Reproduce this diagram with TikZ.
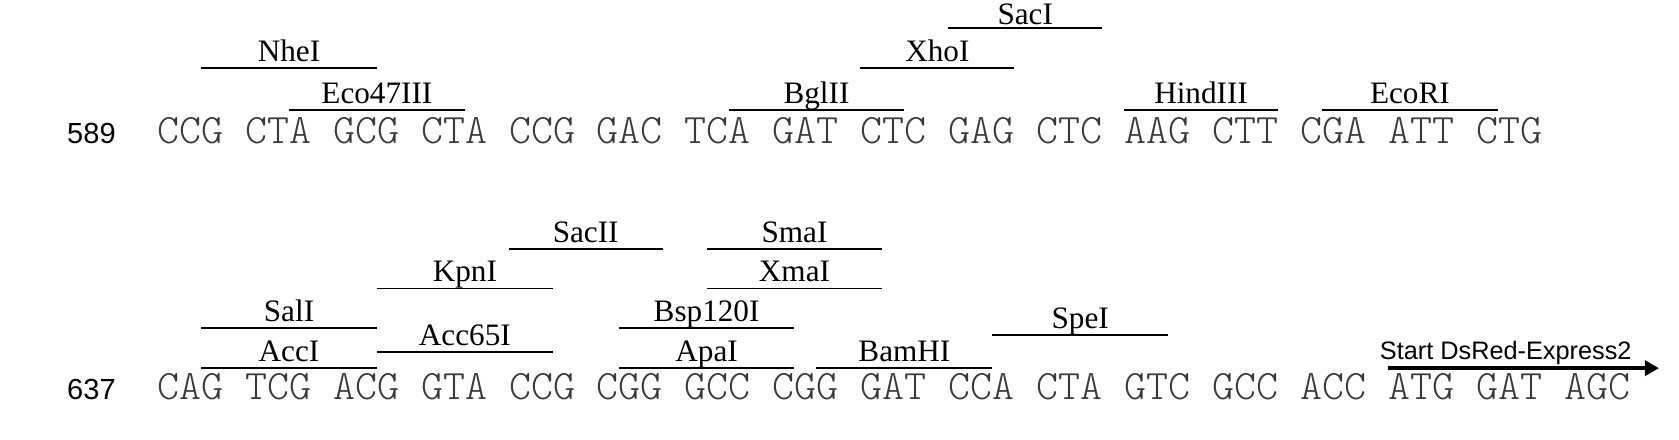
\documentclass[tikz,border=0pt]{standalone}
\usepackage{fontspec}
\setmainfont{Liberation Serif}
\newfontfamily\sansf{Liberation Sans}
\newfontfamily\monof{Latin Modern Mono Light}
\usetikzlibrary{arrows.meta}
\definecolor{seq}{HTML}{3A3A3A}
\newcommand\rsite[6][6pt]{% [gap] name, label, from, to, y
  \draw[bar] ({146+20.42*#4},#6) -- ({146+20.42*#5},#6)
    node[enz, midway, anchor=base, yshift=#1] (#2) {#3};}
\begin{document}
\begin{tikzpicture}[x=1pt,y=-1pt,scale=1.0763,every node/.style={transform shape},
  bar/.style={line width=1.8pt,black},
  enz/.style={inner sep=0pt,font=\fontsize{29}{29}\selectfont},
  seqs/.style={inner sep=0pt,anchor=base west,text=seq,font=\monof\fontsize{38.9}{38.9}\selectfont},
  num/.style={inner sep=0pt,anchor=base,font=\sansf\fontsize{27}{27}\selectfont}]
\useasboundingbox (0,0) rectangle (1560,408.8);
\node[num] (n1) at (85,133) {589};
\node[num] (n2) at (85,371) {637};
\node[seqs] (s1) at (146,133) {CCG CTA GCG CTA CCG GAC TCA GAT CTC GAG CTC AAG CTT CGA ATT CTG};
\node[seqs] (s2) at (146,371) {CAG TCG ACG GTA CCG CGG GCC CGG GAT CCA CTA GTC GCC ACC ATG GAT AGC};
% row 1
\rsite{nhe}{NheI}{2}{10}{63}
\rsite{eco47}{Eco47III}{6}{14}{102}
\rsite{bgl}{BglII}{26}{34}{102}
\rsite{xho}{XhoI}{32}{39}{63}
\rsite[3pt]{sac}{SacI}{36}{43}{26}
\rsite{hind}{HindIII}{44}{51}{102}
\rsite{ecori}{EcoRI}{53}{61}{102}
% row 2
\rsite{acc}{AccI}{2}{10}{342}
\rsite{sal}{SalI}{2}{10}{305}
\rsite{acc65}{Acc65I}{10}{18}{327}
\rsite{kpn}{KpnI}{10}{18}{268}
\rsite{sacii}{SacII}{16}{23}{231}
\rsite{sma}{SmaI}{25}{33}{231}
\rsite{xma}{XmaI}{25}{33}{268}
\rsite{bsp}{Bsp120I}{21}{29}{305}
\rsite{apa}{ApaI}{21}{29}{342}
\rsite{bam}{BamHI}{30}{38}{342}
\rsite{spe}{SpeI}{38}{46}{311}
\coordinate (as) at ({146+20.42*56},342);
\coordinate (ae) at (1541,342);
\draw[line width=3.5pt,-{Triangle[length=14pt,width=15pt]}] (as) -- (ae);
\node[inner sep=0pt,anchor=base,font=\sansf\fontsize{23.5}{23.5}\selectfont] (start) at (1399,334) {Start DsRed-Express2};
\end{tikzpicture}
\end{document}
